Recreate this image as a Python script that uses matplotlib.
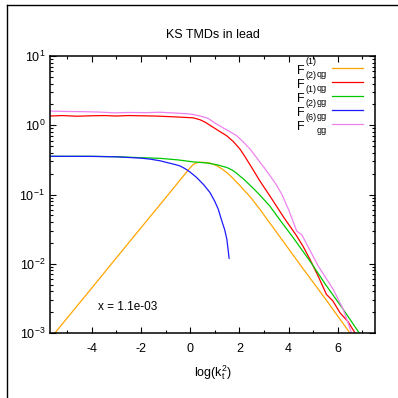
import numpy as np
import matplotlib
matplotlib.use("Agg")
import matplotlib.pyplot as plt
from matplotlib.ticker import LogLocator, MultipleLocator
from matplotlib.lines import Line2D

plt.rcParams['font.family'] = ['Liberation Sans', 'DejaVu Sans']
plt.rcParams['mathtext.fontset'] = 'custom'
plt.rcParams['mathtext.rm'] = 'Liberation Sans'
plt.rcParams['mathtext.it'] = 'Liberation Sans:italic'
plt.rcParams['mathtext.bf'] = 'Liberation Sans:bold'
plt.rcParams['axes.unicode_minus'] = False

##### data (x = log(kt^2))

# F(1) qg
x_f1qg = [-5.7, -5.5, -4, -3, -2, -1, -0.2, -0.1, 0.0, 0.1, 0.2, 0.35, 0.5, 0.65, 0.8,
          0.95, 1.1, 1.3, 1.48, 1.65, 1.8, 2.0, 2.15, 2.35, 2.5, 2.65, 2.83, 3.1, 3.5,
          4.5, 5.5, 6.49, 7.0]
y_f1qg = [8.1e-4, 1.0e-3, 4.47e-3, 1.22e-2, 3.31e-2, 8.97e-2, 0.200, 0.222, 0.244, 0.266,
          0.282, 0.292, 0.292, 0.289, 0.284, 0.272, 0.257, 0.233, 0.208, 0.184, 0.162,
          0.137, 0.119, 0.100, 0.0871, 0.074, 0.0612, 0.045, 0.0288, 0.00933, 0.00309,
          0.0010, 5.6e-4]

# F(2) qg
x_f2qg = [-5.7, -5.2, -4.6, -4.0, -3.5, -3.0, -2.5, -2.0, -1.5, -1.23, -0.6, 0.12, 0.4,
          0.6, 0.8, 1.0, 1.2, 1.48, 1.75, 2.02, 2.2, 2.43, 2.84, 3.24, 3.8, 4.33, 4.6, 4.87,
          5.2, 5.54, 5.8, 6.09, 6.4, 6.7, 7.0]
y_f2qg = [1.36, 1.38, 1.35, 1.37, 1.38, 1.36, 1.38, 1.37, 1.36, 1.35, 1.32, 1.28, 1.20,
          1.11, 1.0, 0.902, 0.813, 0.706, 0.582, 0.454, 0.363, 0.269, 0.155, 0.0950,
          0.0468, 0.0251, 0.0175, 0.0115, 0.0066, 0.00359, 0.00290, 0.00195, 0.00148,
          0.0010, 6.3e-4]

# F(1) gg
x_f1gg = [-5.7, -4, -3, -2, -1.23, -0.5, 0.12, 0.72, 1.1, 1.48, 1.7, 1.85, 2.0, 2.15, 2.3,
          2.45, 2.6, 2.75, 2.95, 3.24, 3.65, 4.2, 4.9, 5.5, 6.2, 6.87, 7.5]
y_f1gg = [0.356, 0.356, 0.351, 0.340, 0.333, 0.316, 0.296, 0.284, 0.268, 0.246, 0.226,
          0.207, 0.187, 0.169, 0.151, 0.134, 0.119, 0.105, 0.0881, 0.0676, 0.0427, 0.0234,
          0.0105, 0.00501, 0.00224, 0.0010, 5.0e-4]

# F(2) gg
x_f2gg = [-5.7, -4, -3, -2, -1.6, -1.23, -0.9, -0.6, -0.42, -0.2, 0.0, 0.26, 0.55, 0.8,
          1.0, 1.14, 1.3, 1.4, 1.49, 1.58]
y_f2gg = [0.356, 0.355, 0.350, 0.335, 0.323, 0.307, 0.287, 0.270, 0.259, 0.235, 0.210,
          0.176, 0.138, 0.107, 0.0794, 0.0612, 0.0398, 0.031, 0.0224, 0.0120]

# F(6) gg
x_f6gg = [-5.7, -5.0, -4.3, -3.7, -3.07, -2.5, -1.8, -1.23, -0.6, -0.09, 0.12, 0.4, 0.72,
          1.07, 1.4, 1.65, 1.89, 2.15, 2.43, 2.84, 3.0, 3.25, 3.5, 3.72, 4.0, 4.33, 4.53,
          5.2, 5.81, 6.22, 6.56, 7.0]
y_f6gg = [1.60, 1.58, 1.57, 1.55, 1.51, 1.53, 1.52, 1.54, 1.50, 1.46, 1.43, 1.36, 1.26,
          1.04, 0.891, 0.794, 0.706, 0.575, 0.454, 0.291, 0.245, 0.186, 0.138, 0.101,
          0.0603, 0.0295, 0.0263, 0.00933, 0.00427, 0.00219, 0.0010, 4.5e-4]

# key labels: F^{sup}_{sub}
key_sup = ['(1)', '(2)', '(1)', '(2)', '(6)']
key_sub = ['qg', 'qg', 'gg', 'gg', 'gg']
colors = ['#ffa500', '#ff0000', '#00c800', '#1a1aff', '#ee82ee']

##### plot
W = 398.0
fig = plt.figure(figsize=(3.98, 3.98), dpi=100)
ax = fig.add_axes([50/W, 65/W, 325/W, 277/W])

series = [(x_f1qg, y_f1qg), (x_f2qg, y_f2qg), (x_f1gg, y_f1gg), (x_f2gg, y_f2gg), (x_f6gg, y_f6gg)]
for (xs, ys), c in zip(series, colors):
    ax.plot(xs, ys, color=c, lw=0.9)

ax.set_yscale('log')
ax.set_xlim(-5.7, 7.51)
ax.set_ylim(1e-3, 10)
ax.xaxis.set_major_locator(MultipleLocator(2))
ax.xaxis.set_minor_locator(MultipleLocator(1))
ax.yaxis.set_major_locator(LogLocator(base=10, numticks=10))
ax.yaxis.set_minor_locator(LogLocator(base=10, subs=np.arange(2, 10), numticks=20))
ax.tick_params(which='both', direction='in', top=True, right=True, labelsize=9,
               width=0.8, colors='black')
ax.tick_params(which='major', length=4)
ax.tick_params(which='minor', length=2)
ax.tick_params(axis='x', which='major', pad=7)
for s in ax.spines.values():
    s.set_linewidth(1.1)

ax.set_title('KS TMDs in lead', fontsize=9, pad=13)
ax.set_xlabel(r'log(k$_\mathrm{t}^2$)', fontsize=9, labelpad=6)
ax.text(0.148, 0.094, 'x = 1.1e-03', transform=ax.transAxes, fontsize=8.5, va='center')

# gnuplot style key, placed in pixels (from top-left)
def px(x, y):
    return x / W, 1 - y / W

for i, (sup, sub, c) in enumerate(zip(key_sup, key_sub, colors)):
    yl = 68 + 14 * i
    fig.add_artist(Line2D([332/W, 363/W], [1 - yl/W, 1 - yl/W], color=c, lw=0.9,
                          transform=fig.transFigure))
    fig.text(*px(297.5, yl + 5.5), 'F', fontsize=9, va='baseline')
    fig.text(*px(305.5, yl - 3.5), sup, fontsize=6.5, va='baseline')
    fig.text(*px(316.5, yl + 9.0), sub, fontsize=6.5, va='baseline')

# page frame (top and left edges)
fig.add_artist(Line2D([7/W, 1], [1 - 5/W, 1 - 5/W], color='black', lw=1.0,
                      transform=fig.transFigure))
fig.add_artist(Line2D([7/W, 7/W], [0, 1 - 5/W], color='black', lw=1.0,
                      transform=fig.transFigure))

fig.savefig('out.png', dpi=100)
